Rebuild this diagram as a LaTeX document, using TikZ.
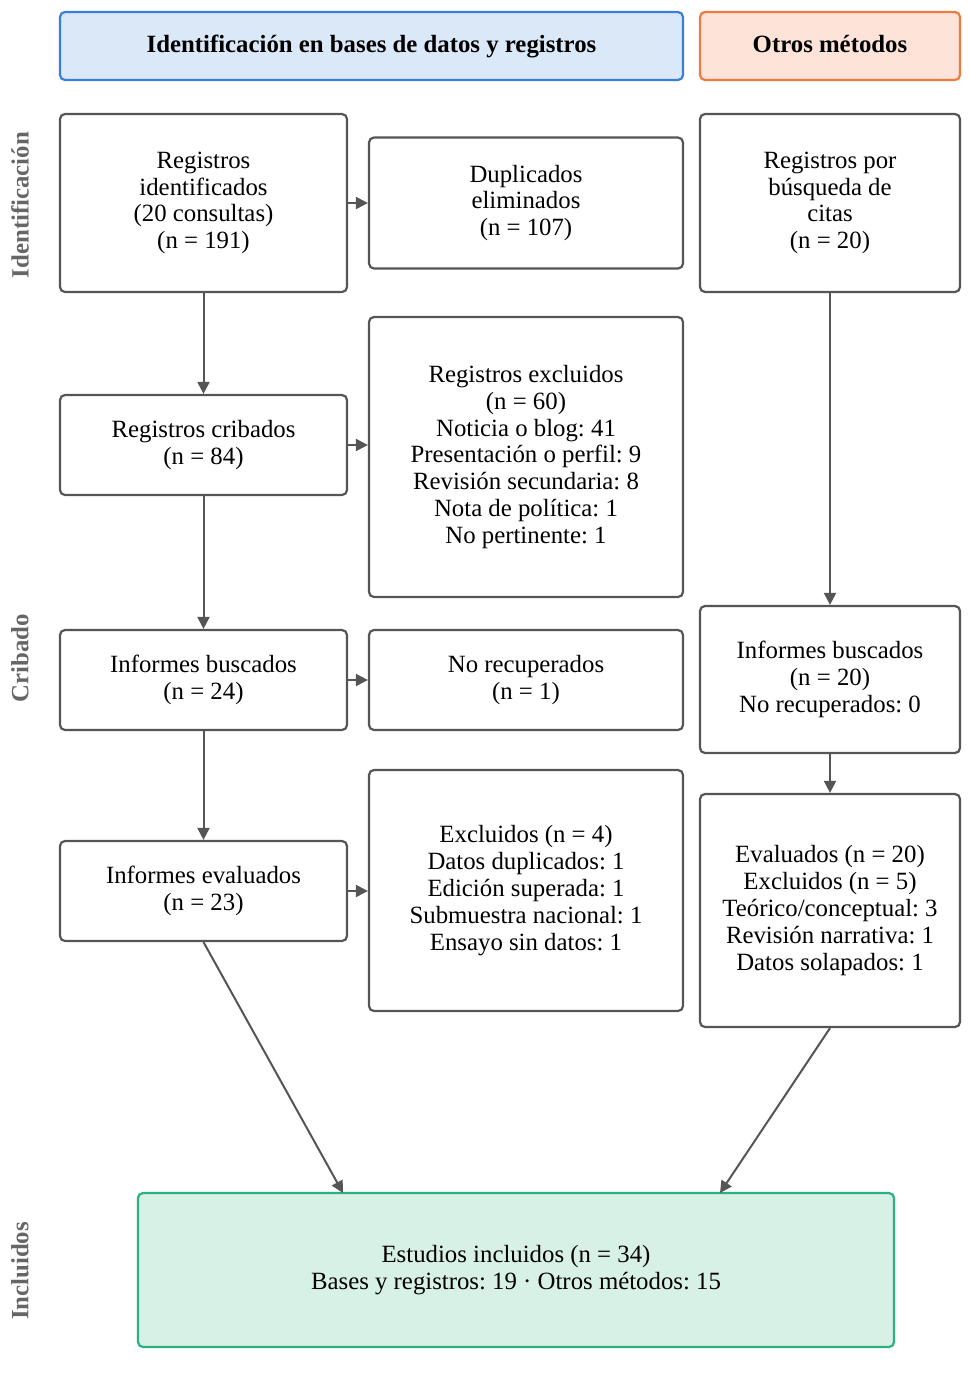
\documentclass[tikz,border=0pt]{standalone}
\usepackage{fontspec}
\setmainfont{Liberation Serif}
\usetikzlibrary{arrows.meta}
\definecolor{boxgray}{HTML}{555555}
\definecolor{sidegray}{HTML}{666666}
\definecolor{hbluefill}{HTML}{DAE8F8}
\definecolor{hblueline}{HTML}{3B7DDD}
\definecolor{horgfill}{HTML}{FDE3D8}
\definecolor{horgline}{HTML}{EE7A3F}
\definecolor{grnfill}{HTML}{D8F1E6}
\definecolor{grnline}{HTML}{2BB07F}
\frenchspacing
\begin{document}
\begin{tikzpicture}[x=1pt,y=-1pt,
  txt/.style={font=\fontsize{24.8}{26.8}\selectfont},
  stepbox/.style={draw=boxgray, line width=2.2pt, rounded corners=5pt, fill=white,
    align=center, inner sep=0pt, txt},
  headbox/.style={line width=2.2pt, rounded corners=5pt, align=center, inner sep=0pt,
    text height=17pt, text depth=5pt,
    font=\fontsize{24.8}{26.8}\selectfont\bfseries},
  side/.style={rotate=90, text=sidegray, font=\fontsize{24.8}{26.8}\selectfont\bfseries},
  arr/.style={draw=boxgray, line width=2pt, -{Triangle[length=12pt,width=12pt]}}
]
\useasboundingbox (0,0) rectangle (969,1392);

% headers
\node[headbox, draw=hblueline, fill=hbluefill, minimum width=623pt, minimum height=68pt]
  (H1) at (371.5,46) {Identificación en bases de datos y registros};
\node[headbox, draw=horgline, fill=horgfill, minimum width=260pt, minimum height=68pt]
  (H2) at (830,46) {Otros métodos};

% side labels
\node[side] (S1) at (20,205) {Identificación};
\node[side] (S2) at (20,658) {Cribado};
\node[side] (S3) at (20,1271) {Incluidos};

% boxes
\node[stepbox, minimum width=287pt, minimum height=178pt] (A) at (203.5,203)
  {Registros\\identificados\\(20 consultas)\\(n = 191)};
\node[stepbox, minimum width=314pt, minimum height=131pt] (B) at (526,203)
  {Duplicados\\eliminados\\(n = 107)};
\node[stepbox, minimum width=260pt, minimum height=178pt] (C) at (830,203)
  {Registros por\\búsqueda de\\citas\\(n = 20)};
\node[stepbox, minimum width=287pt, minimum height=100pt] (D) at (203.5,445)
  {Registros cribados\\(n = 84)};
\node[stepbox, minimum width=314pt, minimum height=280pt] (E) at (526,457)
  {Registros excluidos\\(n = 60)\\Noticia o blog: 41\\Presentación o perfil: 9\\Revisión secundaria: 8\\Nota de política: 1\\No pertinente: 1};
\node[stepbox, minimum width=287pt, minimum height=100pt] (F) at (203.5,680)
  {Informes buscados\\(n = 24)};
\node[stepbox, minimum width=314pt, minimum height=100pt] (G) at (526,680)
  {No recuperados\\(n = 1)};
\node[stepbox, minimum width=260pt, minimum height=147pt] (H) at (830,679.5)
  {Informes buscados\\(n = 20)\\No recuperados: 0};
\node[stepbox, minimum width=287pt, minimum height=100pt] (I) at (203.5,891)
  {Informes evaluados\\(n = 23)};
\node[stepbox, minimum width=314pt, minimum height=241pt] (J) at (526,890.5)
  {Excluidos (n = 4)\\Datos duplicados: 1\\Edición superada: 1\\Submuestra nacional: 1\\Ensayo sin datos: 1};
\node[stepbox, minimum width=260pt, minimum height=233pt] (K) at (830,910.5)
  {Evaluados (n = 20)\\Excluidos (n = 5)\\Teórico/conceptual: 3\\Revisión narrativa: 1\\Datos solapados: 1};
\node[stepbox, draw=grnline, fill=grnfill, minimum width=756pt, minimum height=154pt] (L) at (516,1270)
  {Estudios incluidos (n = 34)\\Bases y registros: 19 · Otros métodos: 15};

\coordinate (L1) at (343,1193);
\coordinate (L2) at (720,1193);

% connectors
\draw[arr] (A.south) -- (D.north);
\draw[arr] (A.east) -- (A.east -| B.west);
\draw[arr] (D.east) -- (D.east -| E.west);
\draw[arr] (D.south) -- (F.north);
\draw[arr] (F.east) -- (F.east -| G.west);
\draw[arr] (F.south) -- (I.north);
\draw[arr] (I.east) -- (I.east -| J.west);
\draw[arr] (C.south) -- (H.north);
\draw[arr] (H.south) -- (K.north);
\draw[arr] (I.south) -- (L1);
\draw[arr] (K.south) -- (L2);
\end{tikzpicture}
\end{document}
